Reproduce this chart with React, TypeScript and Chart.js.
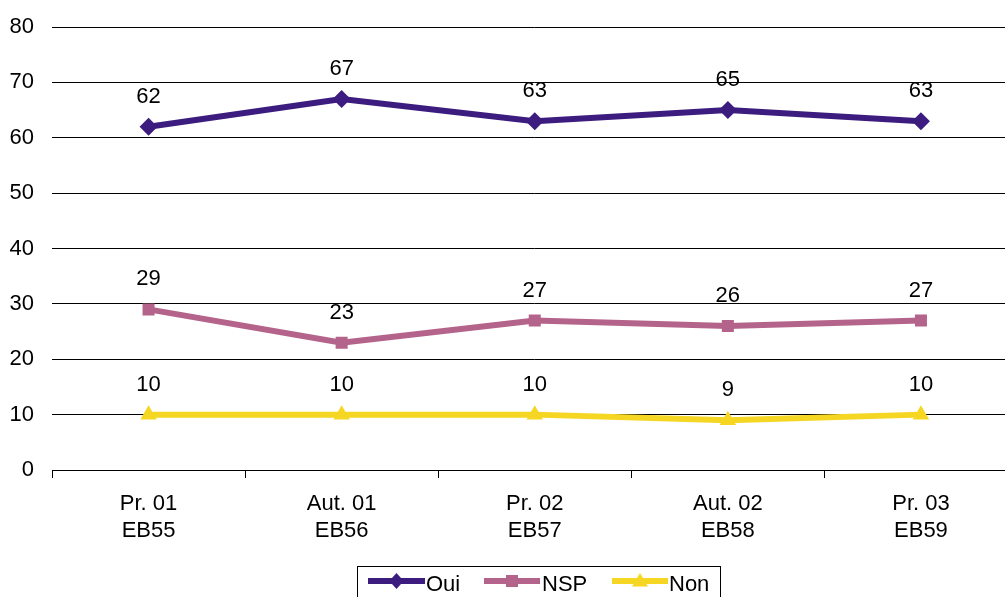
import React, { useEffect, useRef } from "react";
import { Chart, registerables } from "chart.js";

Chart.register(...registerables);

const categories: string[][] = [
  ["Pr. 01", "EB55"],
  ["Aut. 01", "EB56"],
  ["Pr. 02", "EB57"],
  ["Aut. 02", "EB58"],
  ["Pr. 03", "EB59"],
];
const ouiValues = [62, 67, 63, 65, 63];
const nspValues = [29, 23, 27, 26, 27];
const nonValues = [10, 10, 10, 9, 10];
const seriesNames = ["Oui", "NSP", "Non"];
const yTicks = [0, 10, 20, 30, 40, 50, 60, 70, 80];

const COLORS = ["#3C1C7E", "#B4648A", "#F5D623"];
const FONT = "Arial, 'Liberation Sans', sans-serif";
const CANVAS_W = 1027;

const labelPlugin = {
  id: "valueLabels",
  afterDatasetsDraw(chart: any) {
    const ctx = chart.ctx;
    ctx.save();
    ctx.font = `22px ${FONT}`;
    ctx.fillStyle = "#000";
    ctx.textAlign = "center";
    ctx.textBaseline = "middle";
    chart.data.datasets.forEach((ds: any, i: number) => {
      const meta = chart.getDatasetMeta(i);
      meta.data.forEach((pt: any, j: number) => {
        ctx.fillText(String(ds.data[j]), pt.x, pt.y - 30);
      });
    });
    ctx.restore();
  },
};

function drawMarker(ctx: any, style: string, r: number, x: number, y: number) {
  ctx.beginPath();
  if (style === "rectRot") {
    ctx.moveTo(x, y - r);
    ctx.lineTo(x + r * 0.9, y);
    ctx.lineTo(x, y + r);
    ctx.lineTo(x - r * 0.9, y);
  } else if (style === "rect") {
    ctx.rect(x - r, y - r, 2 * r, 2 * r);
  } else {
    ctx.moveTo(x, y - r);
    ctx.lineTo(x + r, y + r * 0.7);
    ctx.lineTo(x - r, y + r * 0.7);
  }
  ctx.closePath();
  ctx.fill();
}

const legendPlugin = {
  id: "customLegend",
  afterDraw(chart: any) {
    const ctx = chart.ctx;
    ctx.save();
    ctx.strokeStyle = "#000";
    ctx.lineWidth = 1;
    ctx.strokeRect(357.5, 566.5, 363, 40);
    const items = [
      { x: 368, w: 57, tx: 426, style: "rectRot", r: 8 },
      { x: 484, w: 56, tx: 542, style: "rect", r: 6 },
      { x: 612, w: 56, tx: 669, style: "triangle", r: 8 },
    ];
    const y = 581;
    ctx.font = `22px ${FONT}`;
    ctx.textBaseline = "middle";
    ctx.textAlign = "left";
    items.forEach((it, i) => {
      ctx.strokeStyle = COLORS[i];
      ctx.lineWidth = 6;
      ctx.beginPath();
      ctx.moveTo(it.x, y);
      ctx.lineTo(it.x + it.w, y);
      ctx.stroke();
      ctx.fillStyle = COLORS[i];
      drawMarker(ctx, it.style, it.r, it.x + it.w / 2, y);
      ctx.fillStyle = "#000";
      ctx.fillText(seriesNames[i], it.tx, y + 4);
    });
    ctx.restore();
  },
};

export default function App() {
  const ref = useRef<HTMLCanvasElement>(null);
  useEffect(() => {
    document.body.style.margin = "0";
    document.body.style.overflow = "hidden";
    const chart = new Chart(ref.current!, {
      type: "line",
      data: {
        labels: categories,
        datasets: [
          {
            label: seriesNames[0],
            data: ouiValues,
            borderColor: COLORS[0],
            backgroundColor: COLORS[0],
            borderWidth: 6,
            pointStyle: "rectRot",
            pointRadius: 9,
            pointBorderWidth: 0,
          },
          {
            label: seriesNames[1],
            data: nspValues,
            borderColor: COLORS[1],
            backgroundColor: COLORS[1],
            borderWidth: 6,
            pointStyle: "rect",
            pointRadius: 8.5,
            pointBorderWidth: 0,
          },
          {
            label: seriesNames[2],
            data: nonValues,
            borderColor: COLORS[2],
            backgroundColor: COLORS[2],
            borderWidth: 6,
            pointStyle: "triangle",
            pointRadius: 9.5,
            pointBorderWidth: 0,
          },
        ],
      },
      options: {
        animation: false,
        responsive: false,
        layout: { padding: { top: 27, right: 0, left: 0, bottom: 0 } },
        plugins: { legend: { display: false }, tooltip: { enabled: false } },
        scales: {
          x: {
            offset: true,
            grid: {
              display: true,
              drawOnChartArea: false,
              drawTicks: true,
              tickLength: 8,
              color: "#000",
              offset: true,
            },
            border: { color: "#000", width: 1 },
            ticks: {
              color: "#000",
              font: { family: FONT, size: 22, lineHeight: 1.23 },
              padding: 12,
              maxRotation: 0,
              autoSkip: false,
            },
            afterFit(scale: any) {
              scale.height = 127;
            },
          },
          y: {
            min: 0,
            max: 80,
            afterBuildTicks(scale: any) {
              scale.ticks = yTicks.map((v) => ({ value: v }));
            },
            grid: { color: "#000", drawTicks: false, lineWidth: 1 },
            border: { display: false },
            ticks: {
              color: "#000",
              font: { family: FONT, size: 22 },
              padding: 18,
            },
            afterFit(scale: any) {
              scale.width = 52;
              scale.paddingTop = 0;
              scale.paddingBottom = 0;
            },
          },
        },
      },
      plugins: [labelPlugin, legendPlugin],
    });
    return () => chart.destroy();
  }, []);
  return (
    <div style={{ position: "absolute", left: 0, top: 0, width: CANVAS_W, height: 597 }}>
      <canvas ref={ref} width={CANVAS_W} height={597} />
    </div>
  );
}
